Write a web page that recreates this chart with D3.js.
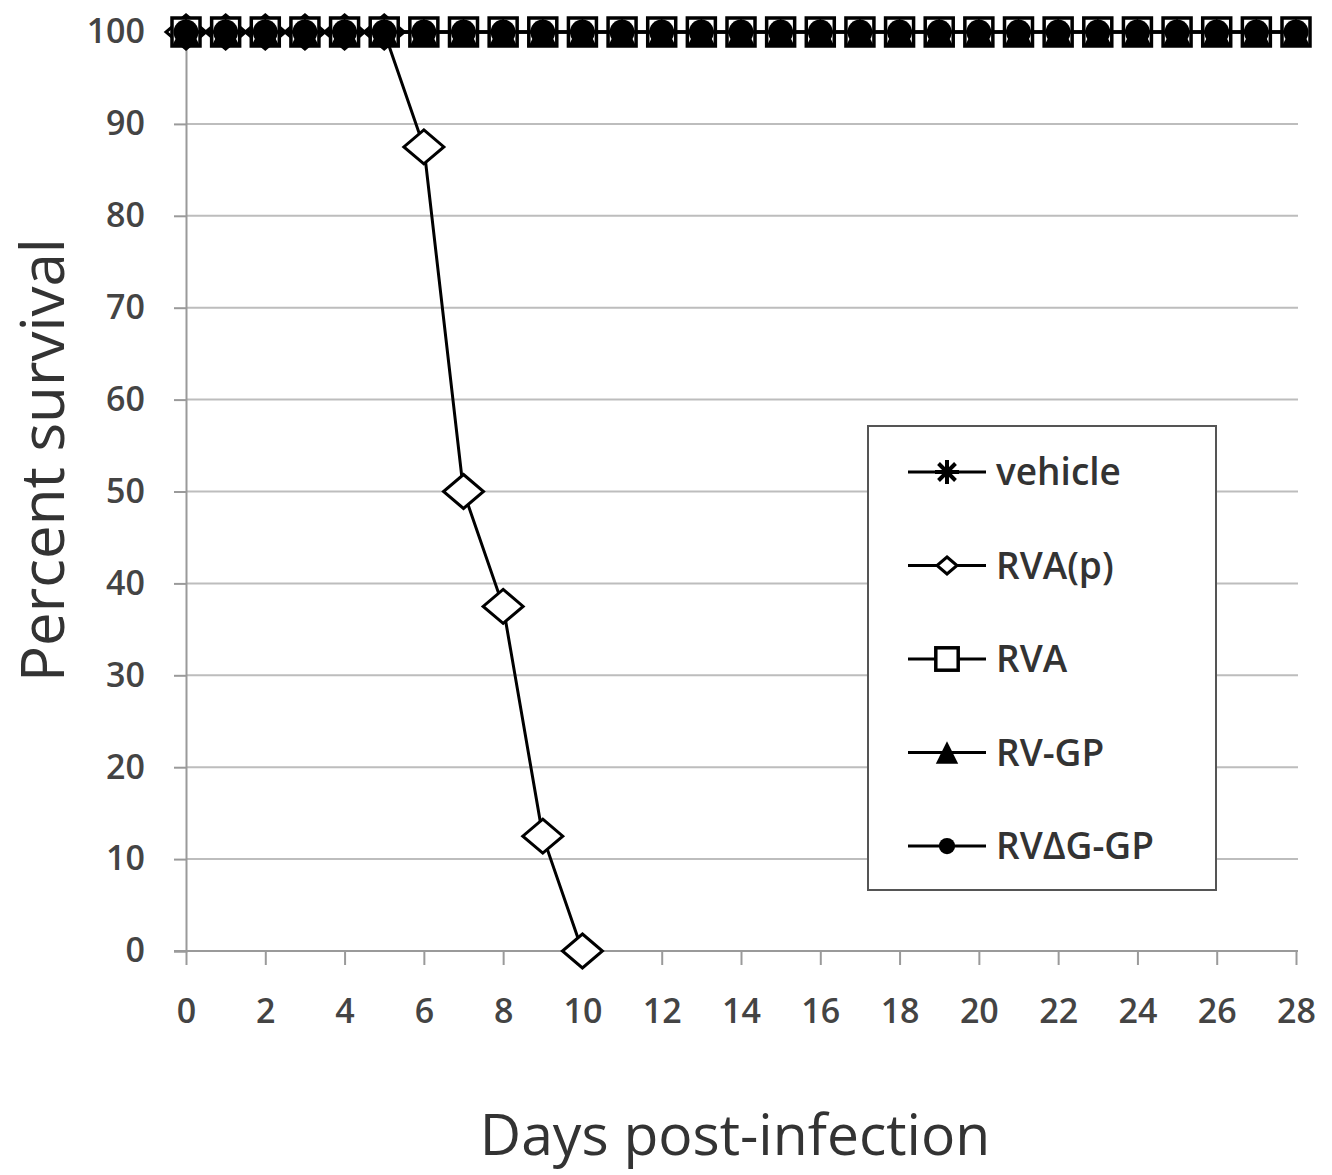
<!DOCTYPE html>
<html>
<head>
<meta charset="utf-8">
<script src="https://cdn.jsdelivr.net/npm/d3@7"></script>
<style>
  body { margin: 0; background: #fff; }
  svg { display: block; }
  text { font-family: "Open Sans", "DejaVu Sans", sans-serif; }
</style>
</head>
<body>
<div id="chart"></div>
<script>
// --- data ---
const days = d3.range(0, 29);
const yTicks = d3.range(0, 101, 10);
const xTicks = d3.range(0, 29, 2);

const vehicle = days.map(() => 100);
const rvaP = [100, 100, 100, 100, 100, 100, 87.5, 50, 37.5, 12.5, 0];
const rva = days.map(() => 100);
const rvGP = days.map(() => 100);
const rvDeltaGGP = days.map(() => 100);

const seriesNames = ["vehicle", "RVA(p)", "RVA", "RV-GP", "RV\u0394G-GP"];
const seriesValues = [vehicle, rvaP, rva, rvGP, rvDeltaGGP];
const seriesMarkers = ["star", "diamond", "square", "triangle", "circle"];

// --- layout ---
const W = 1332, H = 1175;
const svg = d3.select("#chart").append("svg").attr("width", W).attr("height", H);

const x = d3.scaleLinear().domain([0, 28]).range([186, 1296]);
const y = d3.scaleLinear().domain([0, 100]).range([951, 32]);

// gridlines
svg.append("g").selectAll("line").data(yTicks.filter(d => d > 0)).join("line")
  .attr("x1", x(0)).attr("x2", 1298)
  .attr("y1", d => y(d)).attr("y2", d => y(d))
  .attr("stroke", "#bdbdbd").attr("stroke-width", 2);

// y axis
const yAxis = svg.append("g").attr("transform", `translate(${x(0)},0)`)
  .call(d3.axisLeft(y).tickValues(yTicks).tickSize(12).tickPadding(29));
yAxis.select(".domain").attr("stroke", "#9a9a9a").attr("stroke-width", 2);
yAxis.selectAll(".tick line").attr("stroke", "#9a9a9a").attr("stroke-width", 2);
yAxis.selectAll("text").attr("font-size", 34).attr("fill", "#444").attr("font-weight", 600)
  .attr("font-family", "Open Sans, sans-serif");

// x axis
const xAxis = svg.append("g").attr("transform", `translate(0,${y(0)})`)
  .call(d3.axisBottom(x).tickValues(xTicks).tickSize(14).tickPadding(34));
xAxis.select(".domain").attr("stroke", "#9a9a9a").attr("stroke-width", 2)
  .attr("d", `M${x(0) - 12},0H1298`);
xAxis.selectAll(".tick line").attr("stroke", "#9a9a9a").attr("stroke-width", 2);
xAxis.selectAll("text").attr("font-size", 34).attr("fill", "#444").attr("font-weight", 600)
  .attr("font-family", "Open Sans, sans-serif");

// axis titles
svg.append("text")
  .attr("transform", `translate(64,460) rotate(-90)`)
  .attr("text-anchor", "middle").attr("font-size", 60).attr("fill", "#333")
  .text("Percent survival");
svg.append("text")
  .attr("x", 735).attr("y", 1155)
  .attr("text-anchor", "middle").attr("font-size", 57).attr("fill", "#333")
  .text("Days post-infection");

// marker drawing
function drawMarker(g, type, s) {
  // s = scale factor
  if (type === "star") {
    const r = 12 * s;
    const p = [];
    for (let k = 0; k < 4; k++) {
      const a = k * Math.PI / 4;
      p.push(`M${-r * Math.cos(a)},${-r * Math.sin(a)}L${r * Math.cos(a)},${r * Math.sin(a)}`);
    }
    g.append("path").attr("d", p.join("")).attr("stroke", "#000").attr("stroke-width", 4 * s);
  } else if (type === "diamond") {
    const w = 20 * s, h = 17 * s;
    g.append("path").attr("d", `M0,${-h}L${w},0L0,${h}L${-w},0Z`)
      .attr("fill", "#fff").attr("stroke", "#000").attr("stroke-width", 3);
  } else if (type === "square") {
    const a = 14 * s;
    g.append("rect").attr("x", -a).attr("y", -a).attr("width", 2 * a).attr("height", 2 * a)
      .attr("fill", "#fff").attr("stroke", "#000").attr("stroke-width", 3.5);
  } else if (type === "triangle") {
    const a = 14 * s;
    g.append("path").attr("d", `M0,${-a}L${a},${a}L${-a},${a}Z`).attr("fill", "#000");
  } else if (type === "circle") {
    g.append("circle").attr("r", 12.5 * s).attr("fill", "#000");
  }
}

const line = d3.line().x((d, i) => x(i)).y(d => y(d));

// series
seriesValues.forEach((vals, si) => {
  const g = svg.append("g");
  g.append("path").datum(vals).attr("d", line)
    .attr("fill", "none").attr("stroke", "#000").attr("stroke-width", 3);
  vals.forEach((v, i) => {
    const m = g.append("g").attr("transform", `translate(${x(i)},${y(v)})`);
    drawMarker(m, seriesMarkers[si], 1);
  });
});

// legend
const lg = svg.append("g");
lg.append("rect").attr("x", 868).attr("y", 426).attr("width", 348).attr("height", 464)
  .attr("fill", "#fff").attr("stroke", "#555").attr("stroke-width", 2);
const legendY = d3.scalePoint().domain(seriesNames).range([472, 846]);
const legendScale = { star: 1, diamond: 0.5, square: 0.8, triangle: 0.8, circle: 0.65 };
seriesNames.forEach((name, si) => {
  const cy = legendY(name);
  lg.append("line").attr("x1", 908).attr("x2", 986).attr("y1", cy).attr("y2", cy)
    .attr("stroke", "#000").attr("stroke-width", 3);
  const m = lg.append("g").attr("transform", `translate(947,${cy})`);
  drawMarker(m, seriesMarkers[si], legendScale[seriesMarkers[si]]);
  lg.append("text").attr("x", 996).attr("y", cy + 13)
    .attr("font-size", 37).attr("fill", "#333").attr("font-weight", 600)
    .text(name);
});
</script>
</body>
</html>
